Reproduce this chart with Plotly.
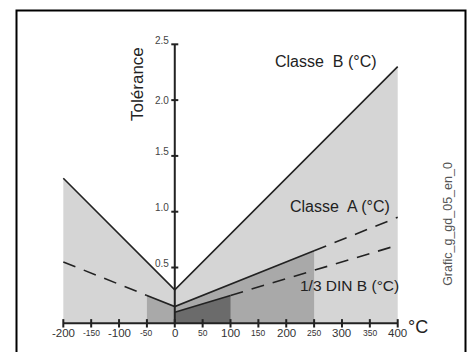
import plotly.graph_objects as go

# ---- data ----
classB_x = [-200, 0, 400]
classB_y = [1.3, 0.3, 2.3]

classA_x = [-200, -50, 0, 250, 400]
classA_y = [0.55, 0.25, 0.15, 0.65, 0.95]

dinB_x = [0, 100, 400]
dinB_y = [0.1, 0.25, 0.7]

x_ticks = [-200, -150, -100, -50, 0, 50, 100, 150, 200, 250, 300, 350, 400]
x_tick_labels = ["-200", "-150", "-100", "-50", "0", "50", "100", "150", "200", "250", "300", "350", "400"]
y_ticks = [0.5, 1.0, 1.5, 2.0, 2.5]
y_tick_labels = ["0.5", "1.0", "1.5", "2.0", "2.5"]

LIGHT = "#d5d5d5"
MED = "#a9a9a9"
DARK = "#6b6b6b"
INK = "#222222"

fig = go.Figure()

def poly(xs, ys, color):
    px = [xs[0]] + list(xs) + [xs[-1]]
    py = [0] + list(ys) + [0]
    fig.add_trace(go.Scatter(x=px, y=py, mode="lines", fill="toself",
                             fillcolor=color, line=dict(width=0),
                             hoverinfo="skip", showlegend=False))

# shaded areas
poly(classB_x, classB_y, LIGHT)
poly(classA_x[1:4], classA_y[1:4], MED)
poly(dinB_x[0:2], dinB_y[0:2], DARK)

def seg(xs, ys, dash=None):
    fig.add_trace(go.Scatter(x=xs, y=ys, mode="lines",
                             line=dict(color=INK, width=1.6, dash=dash),
                             hoverinfo="skip", showlegend=False))

# Classe B
seg(classB_x, classB_y)
# Classe A
seg(classA_x[0:2], classA_y[0:2], "13px,9px")
seg(classA_x[1:4], classA_y[1:4])
seg(classA_x[3:5], classA_y[3:5], "13px,9px")
# 1/3 DIN B
seg(dinB_x[0:2], dinB_y[0:2])
seg(dinB_x[1:3], dinB_y[1:3], "13px,9px")

# axes
fig.add_trace(go.Scatter(x=[x_ticks[0], x_ticks[-1]], y=[0, 0], mode="lines",
                         line=dict(color=INK, width=2), hoverinfo="skip", showlegend=False))
fig.add_trace(go.Scatter(x=x_ticks, y=[0] * len(x_ticks), mode="markers",
                         marker=dict(symbol="line-ns", size=6, line=dict(color=INK, width=2)),
                         hoverinfo="skip", showlegend=False))
fig.add_trace(go.Scatter(x=[0, 0], y=[0, y_ticks[-1]], mode="lines",
                         line=dict(color=INK, width=2), hoverinfo="skip", showlegend=False))
fig.add_trace(go.Scatter(x=[0] * len(y_ticks), y=y_ticks, mode="markers",
                         marker=dict(symbol="line-ew", size=5, line=dict(color=INK, width=2)),
                         hoverinfo="skip", showlegend=False))

ann = []
for i, (v, t) in enumerate(zip(x_ticks, x_tick_labels)):
    big = (v % 100 == 0)
    ann.append(dict(x=v, y=0, text=t, showarrow=False, yanchor="middle", xanchor="center",
                    yshift=-10, font=dict(size=11.5 if big else 8.5, color="#333333")))
for v, t in zip(y_ticks, y_tick_labels):
    ann.append(dict(x=0, y=v, text=t, showarrow=False, xanchor="right", yanchor="middle",
                    xshift=-4, yshift=4 if v != 2.0 else 0, font=dict(size=10, color="#444444")))

ann += [
    dict(x=-68, y=2.144, text="Tolérance", textangle=-90, showarrow=False,
         font=dict(size=17, color=INK)),
    dict(x=271, y=2.35, text="Classe\u00a0 B (°C)", showarrow=False,
         font=dict(size=16, color=INK)),
    dict(x=296, y=1.05, text="Classe\u00a0 A (°C)", showarrow=False,
         font=dict(size=16, color=INK)),
    dict(x=313, y=0.343, text="1/3 DIN B (°C)", showarrow=False,
         font=dict(size=15.5, color=INK)),
    dict(x=436, y=-0.03, text="°C", showarrow=False,
         font=dict(size=18, color=INK)),
    dict(x=490, y=0.89, text="Grafic_g_gd_05_en_0", textangle=-90, showarrow=False,
         font=dict(size=12.5, color="#555555")),
]

fig.update_layout(
    width=473, height=352, autosize=False,
    margin=dict(l=0, r=0, t=0, b=0),
    paper_bgcolor="white", plot_bgcolor="white",
    font=dict(family="Liberation Sans, Arial, sans-serif"),
    xaxis=dict(range=[-313.6, 535.1], visible=False, fixedrange=True),
    yaxis=dict(range=[-0.257, 2.897], visible=False, fixedrange=True),
    annotations=ann,
    shapes=[dict(type="rect", xref="paper", yref="paper",
                 x0=16.5 / 473, x1=465.5 / 473, y0=-0.2, y1=1 - 10.5 / 352,
                 line=dict(color="black", width=2), fillcolor="rgba(0,0,0,0)")],
)

fig.write_html("out.html", config={"displayModeBar": False},
               post_script="document.body.style.margin='0px';document.body.style.overflow='hidden';")
